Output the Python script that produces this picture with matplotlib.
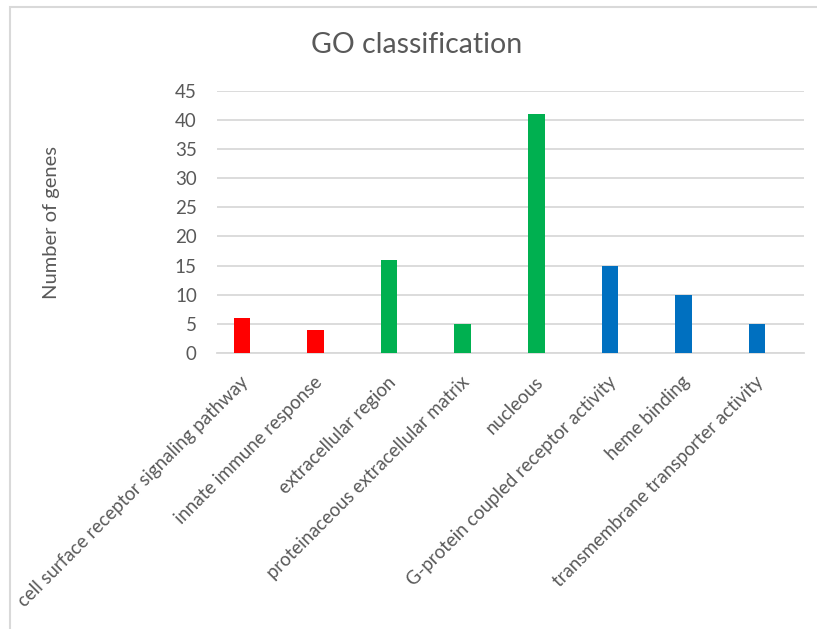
import matplotlib
matplotlib.use("Agg")
import matplotlib.pyplot as plt
from matplotlib.patches import Rectangle
from matplotlib.transforms import ScaledTranslation

categories = [
    "cell surface receptor signaling pathway",
    "innate immune response",
    "extracellular region",
    "proteinaceous extracellular matrix",
    "nucleous",
    "G-protein coupled receptor activity",
    "heme binding",
    "transmembrane transporter activity",
]
counts = [6, 4, 16, 5, 41, 15, 10, 5]
bar_colors = ["#FF0000", "#FF0000", "#00B050", "#00B050", "#00B050",
              "#0070C0", "#0070C0", "#0070C0"]
y_ticks = [0, 5, 10, 15, 20, 25, 30, 35, 40, 45]

plt.rcParams["font.family"] = ["Lato", "DejaVu Sans"]
text_gray = "#595959"
grid_gray = "#D9D9D9"

fig = plt.figure(figsize=(8.17, 6.29), dpi=100)
ax = fig.add_axes([217 / 817, 1 - 353 / 629, (804 - 217) / 817, (353 - 90.7) / 629])

x = list(range(len(categories)))
ax.bar(x, counts, width=0.225, color=bar_colors, zorder=3)

ax.set_xlim(-0.34, 7.64)
ax.set_ylim(0, 45)
ax.set_yticks(y_ticks)
ax.set_yticklabels([str(t) for t in y_ticks], fontsize=13.5, color=text_gray)
ax.yaxis.grid(True, color=grid_gray, linewidth=1.3, zorder=0)
ax.set_axisbelow(True)
ax.tick_params(axis="y", length=0, pad=14.5)
ax.tick_params(axis="x", length=0, pad=19)
for side in ("top", "right", "left"):
    ax.spines[side].set_visible(False)
ax.spines["bottom"].set_color(grid_gray)
ax.spines["bottom"].set_linewidth(1.3)

ax.set_xticks(x)
ax.set_xticklabels(categories, rotation=45, ha="right", va="center",
                   rotation_mode="anchor", fontsize=13.4, color=text_gray)
shift = ScaledTranslation(0.04, 0, fig.dpi_scale_trans)
for lbl in ax.get_xticklabels():
    lbl.set_transform(lbl.get_transform() + shift)

fig.text(417 / 817, 1 - 45 / 629, "GO classification", ha="center", va="center",
         fontsize=20.5, color=text_gray)
fig.text(52 / 817, 1 - 222 / 629, "Number of genes", ha="center", va="center",
         rotation=90, fontsize=14.5, color=text_gray)

# outer chart frame (open to the right and bottom)
fig.patches.append(Rectangle((9.5 / 817, -0.1), 1.2, 1 - 6.5 / 629 + 0.1,
                             transform=fig.transFigure, fill=False,
                             edgecolor=grid_gray, linewidth=1.5))

fig.savefig("out.png", dpi=100)
